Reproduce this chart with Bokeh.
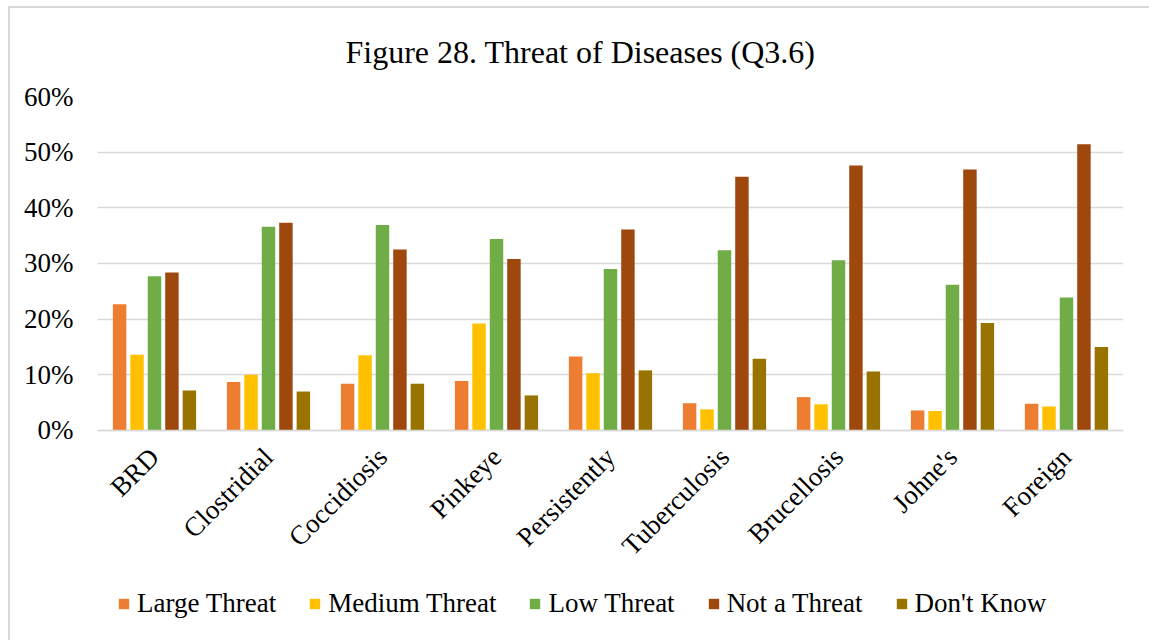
import math
from bokeh.plotting import figure
from bokeh.models import (ColumnDataSource, FactorRange, Range1d, Legend, LegendItem,
                          NumeralTickFormatter, FixedTicker)
from bokeh.transform import dodge
from bokeh.embed import file_html
from bokeh.resources import INLINE

categories = ["BRD", "Clostridial", "Coccidiosis", "Pinkeye", "Persistently",
              "Tuberculosis", "Brucellosis", "Johne's", "Foreign"]
large_threat = [22.7, 8.7, 8.4, 8.9, 13.3, 4.9, 6.0, 3.6, 4.8]
medium_threat = [13.6, 10.0, 13.5, 19.2, 10.3, 3.8, 4.7, 3.5, 4.3]
low_threat = [27.7, 36.6, 36.9, 34.4, 29.0, 32.4, 30.6, 26.2, 23.9]
not_a_threat = [28.4, 37.3, 32.5, 30.8, 36.1, 45.6, 47.6, 46.9, 51.4]
dont_know = [7.2, 7.0, 8.4, 6.3, 10.8, 12.9, 10.6, 19.3, 15.0]
series_names = ["Large Threat", "Medium Threat", "Low Threat", "Not a Threat", "Don't Know"]
colors = ["#ED7D31", "#FFC000", "#70AD47", "#9E480E", "#997300"]
y_ticks = [0, 10, 20, 30, 40, 50, 60]

FONT = "Liberation Serif"

series = [large_threat, medium_threat, low_threat, not_a_threat, dont_know]
keys = ["s0", "s1", "s2", "s3", "s4"]
data = {"cat": categories}
for k, s in zip(keys, series):
    data[k] = [v / 100.0 for v in s]
source = ColumnDataSource(data)

# frame spans from the 60% line down to the bottom of the chart; legend and
# category labels live inside it, below the zero line
y_bottom = -0.3665
p = figure(x_range=FactorRange(*categories), y_range=Range1d(y_bottom, 0.6),
           frame_width=1026, frame_height=538,
           min_border_left=87, min_border_right=26, min_border_top=88, min_border_bottom=6,
           output_backend="svg", toolbar_location=None, x_axis_location="below",
           title="Figure 28. Threat of Diseases (Q3.6)")
p.styles = {"margin-left": "8px", "margin-top": "6px",
            "border-left": "2px solid #d9d9d9", "border-top": "2px solid #d9d9d9"}

step = 0.153
bw = 0.118
renderers = []
for i, (k, c) in enumerate(zip(keys, colors)):
    r = p.vbar(x=dodge("cat", (i - 2) * step, range=p.x_range), top=k, bottom=0, width=bw,
               source=source, fill_color=c, line_color=None)
    renderers.append(r)

p.outline_line_color = None
p.background_fill_color = "white"
p.border_fill_color = "white"
p.xgrid.grid_line_color = None
p.ygrid.grid_line_color = "#d9d9d9"
p.ygrid.grid_line_width = 1.5

p.yaxis.ticker = FixedTicker(ticks=[t / 100.0 for t in y_ticks])
p.yaxis.formatter = NumeralTickFormatter(format="0%")
p.yaxis.axis_line_color = None
p.yaxis.major_tick_line_color = None
p.yaxis.minor_tick_line_color = None
p.yaxis.major_tick_in = 0
p.yaxis.major_tick_out = 0
p.yaxis.major_label_standoff = 24
p.yaxis.major_label_text_font = FONT
p.yaxis.major_label_text_font_size = "27px"
p.yaxis.major_label_text_color = "#000000"

p.xaxis.fixed_location = 0
p.xaxis.axis_line_color = "#d9d9d9"
p.xaxis.axis_line_width = 1.5
p.xaxis.major_tick_line_color = None
p.xaxis.minor_tick_line_color = None
p.xaxis.major_tick_in = 0
p.xaxis.major_tick_out = 0
p.xaxis.major_label_orientation = math.pi / 4
p.xaxis.major_label_standoff = 22
p.xaxis.major_label_text_font = FONT
p.xaxis.major_label_text_font_size = "27px"
p.xaxis.major_label_text_color = "#000000"

p.title.text_font = FONT
p.title.text_font_size = "32px"
p.title.text_font_style = "normal"
p.title.text_color = "#000000"
p.title.align = "left"
p.title.vertical_align = "top"
p.title.text_line_height = 0.8
p.title.offset = 248
p.title.standoff = 50

legend = Legend(items=[LegendItem(label=n, renderers=[r]) for n, r in zip(series_names, renderers)],
                orientation="horizontal", location=(20, 15),
                glyph_width=13, glyph_height=13, label_standoff=7, spacing=32,
                padding=0, margin=0, border_line_color=None, background_fill_alpha=0,
                label_text_font=FONT, label_text_font_size="27px", label_text_color="#000000")
p.add_layout(legend, "center")

open("out.html", "w").write(file_html(p, INLINE))
